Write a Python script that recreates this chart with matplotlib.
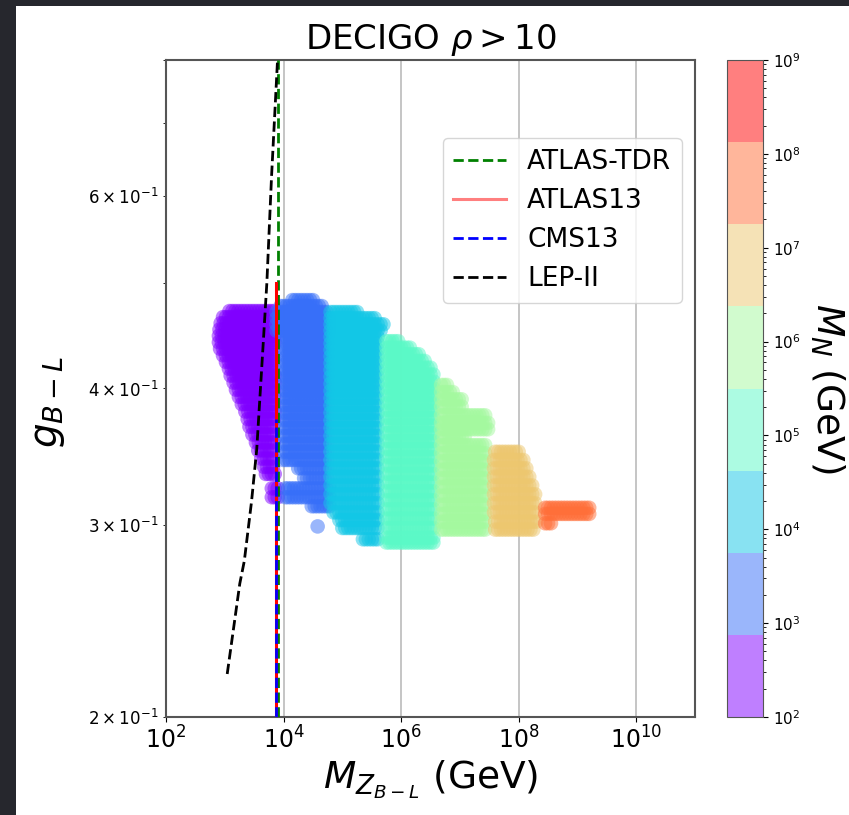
import numpy as np
import matplotlib
matplotlib.use("Agg")
import matplotlib.pyplot as plt
from matplotlib.colors import LogNorm
from matplotlib.patches import Rectangle

# ---------------- data ----------------
# each scatter band: rows of (g_{B-L}, log10 M_Z min, log10 M_Z max)
purple_rows = [
    (0.471, 3.08, 3.85), (0.465, 2.97, 3.85), (0.459, 2.93, 3.85),
    (0.453, 2.91, 3.85), (0.447, 2.90, 3.85), (0.441, 2.90, 3.85),
    (0.435, 2.92, 3.85), (0.429, 2.97, 3.85), (0.423, 3.02, 3.85),
    (0.417, 3.07, 3.85), (0.411, 3.10, 3.85), (0.405, 3.15, 3.85),
    (0.399, 3.19, 3.85), (0.393, 3.24, 3.85), (0.387, 3.29, 3.85),
    (0.381, 3.35, 3.85), (0.375, 3.39, 3.85), (0.369, 3.42, 3.85),
    (0.363, 3.47, 3.85), (0.357, 3.53, 3.85), (0.351, 3.57, 3.85),
    (0.345, 3.62, 3.85), (0.339, 3.67, 3.85), (0.334, 3.70, 3.85),
    (0.324, 3.80, 3.90), (0.318, 3.80, 3.90),
]
blue_rows = [
    (0.482, 4.15, 4.50), (0.476, 3.95, 4.68), (0.470, 3.88, 4.76),
    (0.464, 3.88, 4.78), (0.458, 3.88, 4.78), (0.452, 3.88, 4.78),
    (0.446, 4.00, 4.78), (0.440, 4.00, 4.78), (0.434, 4.00, 4.78),
    (0.428, 4.00, 4.78), (0.422, 4.00, 4.78), (0.416, 4.00, 4.78),
    (0.410, 4.00, 4.78), (0.404, 4.00, 4.78), (0.398, 4.00, 4.78),
    (0.392, 4.00, 4.78), (0.386, 4.00, 4.78), (0.380, 4.00, 4.78),
    (0.374, 4.00, 4.78), (0.368, 4.00, 4.78), (0.362, 4.00, 4.78),
    (0.356, 4.00, 4.78), (0.350, 4.00, 4.78), (0.344, 4.00, 4.78),
    (0.338, 4.25, 4.78), (0.331, 4.35, 4.78), (0.324, 4.03, 4.78),
    (0.318, 4.03, 4.78), (0.312, 4.48, 4.78), (0.299, 4.58, 4.58),
]
cyan_rows = [
    (0.470, 4.80, 5.25), (0.464, 4.80, 5.55), (0.458, 4.80, 5.70),
    (0.452, 4.80, 5.66), (0.446, 4.80, 5.62), (0.440, 4.80, 5.62),
    (0.434, 4.80, 5.62), (0.428, 4.80, 5.62), (0.422, 4.80, 5.62),
    (0.416, 4.80, 5.62), (0.410, 4.80, 5.62), (0.404, 4.80, 5.62),
    (0.398, 4.80, 5.62), (0.392, 4.80, 5.62), (0.386, 4.80, 5.62),
    (0.380, 4.80, 5.62), (0.374, 4.80, 5.62), (0.368, 4.80, 5.62),
    (0.362, 4.80, 5.62), (0.356, 4.80, 5.62), (0.350, 4.80, 5.62),
    (0.344, 4.80, 5.62), (0.338, 4.80, 5.62), (0.332, 4.80, 5.62),
    (0.326, 4.80, 5.62), (0.320, 4.80, 5.62), (0.314, 4.80, 5.62),
    (0.308, 4.85, 5.62), (0.303, 4.95, 5.62), (0.298, 5.00, 5.62),
    (0.291, 5.35, 5.62),
]
mint_rows = [
    (0.442, 5.75, 5.95), (0.436, 5.75, 6.15), (0.430, 5.75, 6.30),
    (0.424, 5.75, 6.40), (0.418, 5.75, 6.50), (0.412, 5.75, 6.55),
    (0.406, 5.75, 6.55), (0.400, 5.75, 6.55), (0.394, 5.75, 6.55),
    (0.388, 5.75, 6.55), (0.382, 5.75, 6.55), (0.376, 5.75, 6.55),
    (0.370, 5.75, 6.55), (0.364, 5.75, 6.55), (0.358, 5.75, 6.55),
    (0.352, 5.75, 6.55), (0.346, 5.75, 6.55), (0.340, 5.75, 6.55),
    (0.334, 5.75, 6.55), (0.328, 5.75, 6.55), (0.322, 5.75, 6.55),
    (0.316, 5.75, 6.55), (0.310, 5.75, 6.55), (0.304, 5.75, 6.55),
    (0.298, 5.75, 6.55), (0.292, 5.75, 6.55), (0.289, 5.75, 6.55),
]
green_rows = [
    (0.403, 6.68, 6.78), (0.397, 6.68, 6.88), (0.391, 6.68, 7.05),
    (0.385, 6.68, 7.05), (0.378, 6.68, 7.45), (0.372, 6.68, 7.52),
    (0.367, 6.68, 7.50), (0.361, 6.68, 7.10), (0.355, 6.68, 7.45),
    (0.349, 6.68, 7.45), (0.343, 6.68, 7.45), (0.337, 6.68, 7.45),
    (0.331, 6.68, 7.45), (0.325, 6.68, 7.45), (0.319, 6.68, 7.45),
    (0.313, 6.68, 7.45), (0.307, 6.68, 7.45), (0.302, 6.68, 7.45),
    (0.297, 6.68, 7.45),
]
tan_rows = [
    (0.350, 7.60, 8.02), (0.344, 7.58, 8.10), (0.338, 7.58, 8.16),
    (0.332, 7.58, 8.20), (0.326, 7.58, 8.25), (0.320, 7.58, 8.28),
    (0.314, 7.58, 8.30), (0.308, 7.58, 8.30), (0.302, 7.60, 8.30),
    (0.297, 7.60, 8.28),
]
orange_rows = [
    (0.311, 8.45, 9.22), (0.307, 8.45, 9.22), (0.301, 8.45, 8.55),
]
band_rows = [purple_rows, blue_rows, cyan_rows, mint_rows,
             green_rows, tan_rows, orange_rows]
band_MN = [10**2.4, 10**3.3, 10**4.2, 10**5.1, 10**6.0, 10**6.8, 10**7.7]

# constraint curves
atlas_tdr_mz = [8.0e3, 8.0e3]
atlas_tdr_g = [0.2, 0.8]
atlas13_mz = [7.5e3, 7.5e3]
atlas13_g = [0.2, 0.5]
cms13_mz = [7.5e3, 7.5e3]
cms13_g = [0.2, 0.375]
lep_mz = [1100, 1800, 2150, 2850, 3500, 4450, 5200, 6250, 7900]
lep_g = [0.219, 0.265, 0.278, 0.315, 0.352, 0.435, 0.500, 0.626, 0.80]

x_ticks = [1e2, 1e4, 1e6, 1e8, 1e10]

# ---------------- expand rows into scatter points ----------------
pts_mz, pts_g, pts_mn = [], [], []
for rows, mn in zip(band_rows, band_MN):
    for g, lo, hi in rows:
        ls = np.arange(lo, hi + 1e-9, 0.05) if hi > lo else np.array([lo])
        pts_mz.extend(10**ls)
        pts_g.extend([g] * len(ls))
        pts_mn.extend([mn] * len(ls))

# ---------------- figure ----------------
W, H = 849, 815
fig = plt.figure(figsize=(W / 100, H / 100), dpi=100)
fig.patch.set_facecolor("#26272d")
fig.add_artist(Rectangle((16 / W, 0), 1 - 16 / W, (H - 6) / H,
                         transform=fig.transFigure, facecolor="white",
                         edgecolor="none", zorder=-5))

ax = fig.add_axes([166 / W, (H - 717) / H, (695 - 166) / W, (717 - 60) / H])
cax = fig.add_axes([727 / W, (H - 717) / H, (763 - 727) / W, (717 - 60) / H])

cmap = plt.get_cmap("rainbow", 8)
norm = LogNorm(vmin=1e2, vmax=1e9)
sc = ax.scatter(pts_mz, pts_g, c=pts_mn, cmap=cmap, norm=norm, s=110,
                alpha=0.5, linewidths=0, zorder=2)

ax.plot(atlas_tdr_mz, atlas_tdr_g, "--", color="green", lw=2, label="ATLAS-TDR", zorder=3)
ax.plot(atlas13_mz, atlas13_g, "-", color="red", lw=2.2, label="ATLAS13", zorder=3)
ax.plot(cms13_mz, cms13_g, "--", color="blue", lw=2, label="CMS13", zorder=4)
ax.plot(lep_mz, lep_g, "--", color="black", lw=2, label="LEP-II", zorder=4)

ax.set_xscale("log")
ax.set_yscale("log")
ax.set_xlim(1e2, 1e11)
ax.set_ylim(0.2, 0.8)
ax.set_xticks(x_ticks)
ax.grid(True, which="major", color="#c0c0c0", lw=1.3)
ax.set_axisbelow(True)
ax.tick_params(axis="x", which="major", labelsize=17)
ax.tick_params(axis="y", which="both", labelsize=12)
for sp in ax.spines.values():
    sp.set_color("#555555")
    sp.set_linewidth(1.5)

ax.set_title(r"DECIGO $\rho > 10$", fontsize=24.5, pad=8)
ax.set_xlabel(r"$M_{Z_{B-L}}$ (GeV)", fontsize=27, labelpad=3)
ax.set_ylabel(r"$g_{B-L}$", fontsize=28)
ax.yaxis.set_label_coords(-0.187, 0.48)

leg = ax.legend(loc="upper right", bbox_to_anchor=(0.975, 0.881),
                borderaxespad=0, fontsize=19, handlelength=2.0)
leg.get_lines()[1].set_alpha(0.5)

cb = fig.colorbar(sc, cax=cax)
cb.ax.tick_params(labelsize=11)
cb.set_label(r"$M_N$ (GeV)", fontsize=27, rotation=270, labelpad=33)
cb.outline.set_edgecolor("#555555")

fig.savefig("out.png", dpi=100, facecolor=fig.get_facecolor())
